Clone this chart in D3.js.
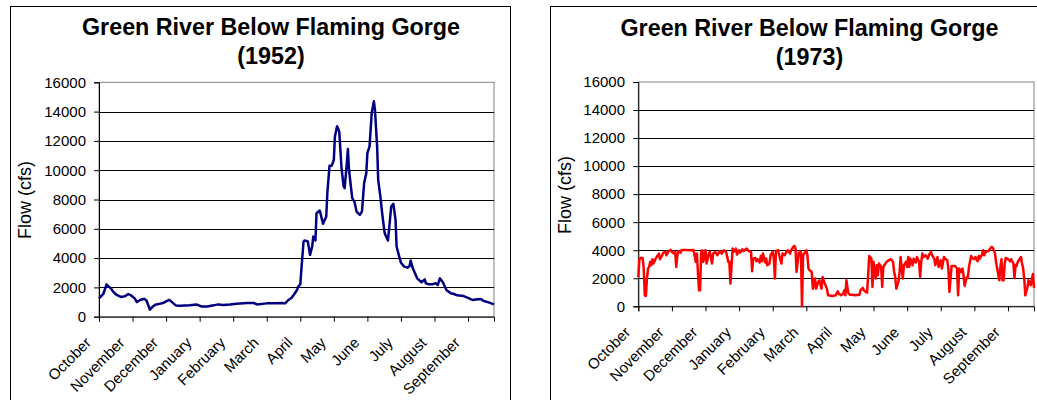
<!DOCTYPE html>
<html>
<head>
<meta charset="utf-8">
<script src="https://cdn.jsdelivr.net/npm/d3@7"></script>
<style>
  html, body { margin: 0; padding: 0; background: #fff; }
  svg { display: block; font-family: "Liberation Sans", Arial, sans-serif; }
</style>
</head>
<body>
<svg id="chart" width="1037" height="400"></svg>
<script>
// ---------------- DATA ----------------
const months = ["October","November","December","January","February","March","April","May","June","July","August","September"];
const yTicks = [0, 2000, 4000, 6000, 8000, 10000, 12000, 14000, 16000];

const days1952 = [0,2,4,7,9,11,13,16,20,24,27,30,33,35,38,42,44,47,49,52,55,59,62,65,68,71,75,84,90,95,100,106,110,115,121,127,137,143,146,155,164,169,172,175,178,181,183,184,186,187,189,190,193,195,197,198,200,201,204,205,207,210,211,213,215,217,218,220,222,224,226,227,229,230,231,234,236,238,241,243,245,247,248,250,252,254,255,257,258,260,262,264,267,268,270,272,274,275,277,279,282,285,287,288,290,292,294,298,301,302,305,308,311,313,315,318,321,325,328,331,337,342,345,350,353,355,360,365];
const flow1952 = [1250,1400,1550,2200,2050,1940,1710,1500,1350,1400,1550,1435,1250,1000,1140,1220,1090,480,640,820,860,930,1040,1150,960,770,750,775,840,690,690,775,840,800,840,890,935,935,840,910,910,935,910,1140,1300,1600,1820,2050,2210,3190,5130,5200,5130,4220,4790,5470,5200,7060,7250,6950,6340,6840,8430,10300,10300,10710,12300,13000,12650,10250,8890,8770,10480,11440,10030,8090,7860,7180,6950,7180,9120,9800,11170,11620,13900,14700,14130,11620,9340,8200,6840,5700,5200,5930,7520,7700,6610,4790,4220,3690,3420,3350,3460,3830,3300,2960,2620,2350,2550,2280,2210,2210,2280,2160,2620,2320,1820,1600,1550,1460,1410,1250,1140,1185,1210,1090,980,840];

const days1973 = [0,1,2,4,5,6,7,8,9,10,11,12,13,14,16,17,19,20,22,23,25,26,28,30,31,33,34,35,36,37,39,40,44,47,51,53,54,56,57,58,59,60,62,63,65,66,68,69,71,73,75,77,79,81,83,84,85,87,88,90,91,93,94,96,97,100,102,104,105,106,108,109,110,112,113,114,115,117,118,119,121,122,124,125,126,127,129,130,132,133,135,137,138,140,141,143,144,145,146,148,149,150,151,152,153,155,156,157,158,160,161,163,164,166,167,169,170,172,174,175,179,182,184,185,187,189,190,191,192,193,194,195,197,200,204,205,207,208,210,211,212,213,215,216,217,219,220,221,222,224,225,226,227,229,231,233,235,236,237,238,240,241,242,243,244,245,247,248,249,250,251,253,254,256,257,259,260,261,262,263,265,267,268,270,271,273,274,276,277,279,280,282,283,285,286,287,289,290,292,293,294,295,296,298,299,300,301,303,304,305,307,308,310,311,313,314,315,317,318,319,321,323,324,326,327,329,330,331,333,334,335,336,337,338,339,341,343,344,346,347,348,349,350,352,353,354,355,356,357,359,360,362,364,365];
const flow1973 = [2090,3350,3450,3450,2690,785,740,1980,2690,2810,3170,2930,3360,3050,3400,3520,3760,3360,3640,3830,3880,3640,3930,4020,3880,3760,3880,2810,3640,3930,3830,4020,4020,4000,4020,3170,3760,1140,1140,3880,4000,3170,4000,3050,3760,3880,3050,3760,3880,3640,3930,3760,4000,3880,3170,3170,1620,4120,3880,4120,3690,4000,3830,4070,3930,4120,3930,3880,2500,3400,3450,3210,3360,3120,3590,3210,3760,3120,3400,2930,3050,3640,3880,3400,1980,3930,4000,3640,3050,3760,3640,3930,4000,3760,4000,4240,4310,4120,2450,3830,3640,3880,0,3640,3760,4000,3640,2690,2570,2450,1260,1980,1260,1740,1860,1260,2090,1620,1260,785,740,785,1070,900,785,900,1140,785,1860,1260,900,830,830,785,830,1140,1310,1140,1020,975,2210,3590,3400,1380,3170,1980,2930,2210,3050,2810,1380,2810,2930,3170,3280,3360,3170,2450,2090,1260,1740,2450,3520,2690,1980,2930,3170,2810,3520,2810,3400,2930,3400,3120,3520,3170,2090,3170,3760,3520,3640,3400,3640,3880,3640,3400,2930,3520,2810,3280,2690,3520,3400,3280,2690,1020,2880,2880,2880,2810,2690,785,2690,2450,2690,2210,1450,2090,2020,2810,3590,3450,3360,3520,3210,3590,3400,3690,4000,3640,3930,3930,4070,4240,4170,3760,3170,2690,1860,2810,3360,1860,1860,3050,3450,3360,3210,3360,3050,2020,2930,2880,3170,3400,3520,3050,2690,1980,785,1380,1860,1500,2300,1310];

// ---------------- LAYOUT ----------------
const svg = d3.select("#chart");

const charts = [
  { title: "Green River Below Flaming Gorge", year: "(1952)", days: days1952, flow: flow1952, color: "#000080",
    frame: [10, 6, 500, 420], plot: { x0: 99, x1: 494, y0: 82.3, y1: 316.7 },
    titleX: 271, titleY1: 35, titleY2: 64, yTitleX: 31, yTitleY: 200, tickLabelX: 86 },
  { title: "Green River Below Flaming Gorge", year: "(1973)", days: days1973, flow: flow1973, color: "#ff0000",
    frame: [550, 6, 520, 420], plot: { x0: 638.3, x1: 1034, y0: 82, y1: 306.3 },
    titleX: 809.5, titleY1: 35.5, titleY2: 65, yTitleX: 571, yTitleY: 195, tickLabelX: 625 }
];

charts.forEach(c => {
  const g = svg.append("g");
  // outer frame
  g.append("rect").attr("x", c.frame[0] + 0.5).attr("y", c.frame[1] + 0.5)
    .attr("width", c.frame[2]).attr("height", c.frame[3])
    .attr("fill", "none").attr("stroke", "#000").attr("stroke-width", 1);

  const x = d3.scaleLinear().domain([0, 365]).range([c.plot.x0, c.plot.x1]);
  const y = d3.scaleLinear().domain([0, 16000]).range([c.plot.y1, c.plot.y0]);

  // plot area border
  g.append("rect").attr("x", c.plot.x0).attr("y", y(16000))
    .attr("width", c.plot.x1 - c.plot.x0).attr("height", y(0) - y(16000))
    .attr("fill", "none").attr("stroke", "#808080").attr("stroke-width", 1);

  // gridlines
  g.selectAll(".grid").data(yTicks.filter(v => v > 0 && v < 16000)).enter().append("line")
    .attr("x1", c.plot.x0).attr("x2", c.plot.x1)
    .attr("y1", d => Math.round(y(d)) + 0.5).attr("y2", d => Math.round(y(d)) + 0.5)
    .attr("stroke", "#000").attr("stroke-width", 1).attr("shape-rendering", "crispEdges");

  // y axis
  const yAxis = d3.axisLeft(y).tickValues(yTicks).tickSize(5).tickPadding(8).tickFormat(d3.format("d"));
  const ya = g.append("g").attr("transform", `translate(${c.plot.x0},0)`).call(yAxis);
  ya.select(".domain").attr("stroke", "#000");
  ya.selectAll(".tick line").attr("stroke", "#000");
  ya.selectAll(".tick text").attr("font-size", 15).attr("fill", "#000")
    .attr("font-family", "'Liberation Sans', Arial, sans-serif")
    .attr("x", c.tickLabelX - c.plot.x0);

  // x axis
  const tickDays = months.map((m, i) => i * 31);
  const xAxis = d3.axisBottom(x).tickValues(tickDays.concat([365])).tickSize(5).tickFormat("");
  const xa = g.append("g").attr("transform", `translate(0,${c.plot.y1})`).call(xAxis);
  xa.select(".domain").attr("stroke", "#000");
  xa.selectAll(".tick line").attr("stroke", "#000");
  xa.selectAll(".tick").filter(d => d === 365).remove();

  // month labels
  g.selectAll(".mlabel").data(months).enter().append("text")
    .attr("transform", (d, i) => `translate(${x(i * 31) - 7},${c.plot.y1 + 27}) rotate(-45)`)
    .attr("text-anchor", "end").attr("font-size", 15).attr("fill", "#000")
    .text(d => d);

  // line
  const pts = c.days.map((d, i) => [d, c.flow[i]]);
  g.append("path").datum(pts)
    .attr("d", d3.line().x(d => x(d[0])).y(d => y(d[1])))
    .attr("fill", "none").attr("stroke", c.color).attr("stroke-width", 2.5)
    .attr("stroke-linejoin", "round");

  // titles
  g.append("text").attr("x", c.titleX).attr("y", c.titleY1).attr("text-anchor", "middle")
    .attr("font-size", 23.3).attr("font-weight", "bold").text(c.title);
  g.append("text").attr("x", c.titleX).attr("y", c.titleY2).attr("text-anchor", "middle")
    .attr("font-size", 23.3).attr("font-weight", "bold").text(c.year);

  // y title
  g.append("text").attr("transform", `translate(${c.yTitleX},${c.yTitleY}) rotate(-90)`)
    .attr("text-anchor", "middle").attr("font-size", 18).text("Flow (cfs)");
});
</script>
</body>
</html>
